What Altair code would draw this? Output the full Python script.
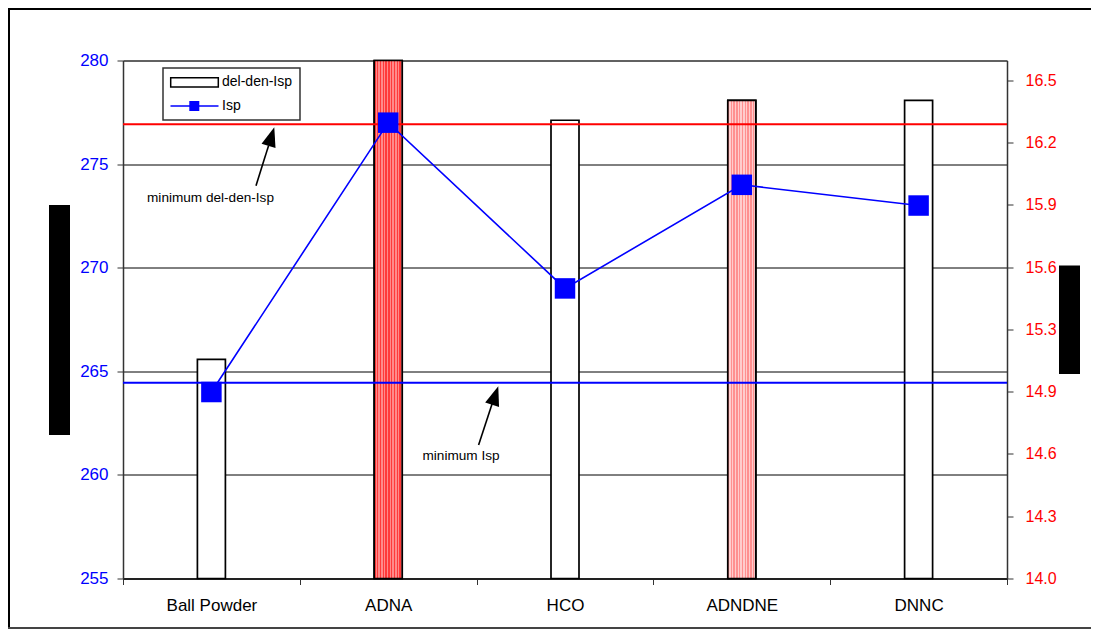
import altair as alt
import pandas as pd

# ---------------- data ----------------
categories = ["Ball Powder", "ADNA", "HCO", "ADNDNE", "DNNC"]
del_den_isp = [15.1, 16.6, 16.3, 16.4, 16.4]      # right axis (bars)
isp = [264.0, 277.0, 269.0, 274.0, 273.0]          # left axis (line)
min_del_den_isp = [16.28]
min_isp = [264.45]
left_ticks = [255, 260, 265, 270, 275, 280]
right_ticks = [14.0, 14.3125, 14.625, 14.9375, 15.25, 15.5625, 15.875, 16.1875, 16.5]
right_domain = [14.0, 16.6]
left_domain = [255, 280]

FONT = "Liberation Sans"
W, H = 884, 518

df = pd.DataFrame({"cat": categories, "ddi": del_den_isp, "isp": isp})
one = pd.DataFrame({"a": [0]})


def stripes(dark, light, n=10):
    stops = []
    for i in range(n):
        a, b, c = i / n, (i + 0.5) / n, (i + 1) / n
        stops += [
            alt.GradientStop(offset=a, color=dark),
            alt.GradientStop(offset=b, color=dark),
            alt.GradientStop(offset=b, color=light),
            alt.GradientStop(offset=c, color=light),
        ]
    return alt.LinearGradient(gradient="linear", stops=stops, x1=0, x2=1, y1=0, y2=0)


x_enc = alt.X(
    "cat:N",
    sort=categories,
    scale=alt.Scale(paddingInner=0, paddingOuter=0),
    axis=alt.Axis(
        title=None, labelAngle=0, tickBand="extent", labelFontSize=17, labelFont=FONT,
        labelColor="black", labelPadding=13, tickSize=6, tickColor="#333",
        domainColor="#222", domainWidth=2, grid=False,
    ),
)

r_scale = alt.Scale(domain=right_domain, nice=False, zero=False)
l_scale = alt.Scale(domain=left_domain, nice=False, zero=False)

r_axis = alt.Axis(
    orient="right", values=right_ticks, format=".1f", title=None, labelColor="#ff0000",
    labelFontSize=16, labelFont=FONT, grid=False, tickSize=6, labelPadding=12,
    domainColor="#333", domainWidth=1.5, tickColor="#333",
)
l_axis = alt.Axis(
    orient="left", values=left_ticks, title=None, labelColor="#0000ff",
    labelFontSize=17, labelFont=FONT, grid=True, gridColor="#000", gridWidth=1,
    tickSize=6, labelPadding=9, domainColor="#333", domainWidth=1.5, tickColor="#333",
)

yR = alt.Y("ddi:Q", scale=r_scale, axis=r_axis)
yL = alt.Y("isp:Q", scale=l_scale, axis=l_axis)
base_r = alt.datum(right_domain[0])

bars = alt.Chart(df).mark_bar(size=28, fill="white", stroke="black", strokeWidth=1.7).encode(
    x=x_enc, y=yR, y2=base_r
)
adna = alt.Chart(df).transform_filter(alt.datum.cat == "ADNA").mark_bar(
    size=28, fill=stripes("#ff3a3a", "#ff8a8a"), stroke="black", strokeWidth=1.7
).encode(x=x_enc, y=yR, y2=base_r)
adndne = alt.Chart(df).transform_filter(alt.datum.cat == "ADNDNE").mark_bar(
    size=28, fill=stripes("#ff9090", "#ffcdcd"), stroke="black", strokeWidth=1.7
).encode(x=x_enc, y=yR, y2=base_r)
red_rule = alt.Chart(pd.DataFrame({"ddi": min_del_den_isp})).mark_rule(
    color="#ff0000", strokeWidth=2
).encode(y=yR)

group_right = alt.layer(bars, adna, adndne, red_rule)

line = alt.Chart(df).mark_line(color="#0000ff", strokeWidth=1.6).encode(x=x_enc, y=yL)
pts = alt.Chart(df).mark_point(
    shape="square", filled=True, size=420, color="#0000ff", opacity=1
).encode(x=x_enc, y=yL)
blue_rule = alt.Chart(pd.DataFrame({"isp": min_isp})).mark_rule(
    color="#0000ff", strokeWidth=2
).encode(y=yL)

group_left = alt.layer(line, pts, blue_rule)

# ---------------- annotations / decoration ----------------
ARROW = "M0,-1L0.75,1L-0.75,1Z"


def arrow(tx, ty, hx, hy, cx, cy, ang):
    shaft = alt.Chart(one).mark_rule(color="black", strokeWidth=1.6).encode(
        x=alt.value(tx), y=alt.value(ty), x2=alt.value(hx), y2=alt.value(hy)
    )
    head = alt.Chart(one).mark_point(
        shape=ARROW, filled=True, color="black", size=380, angle=ang, opacity=1
    ).encode(x=alt.value(cx), y=alt.value(cy))
    return [shaft, head]


def label(txt, x, y, size=13, align="center"):
    return alt.Chart(one).mark_text(
        text=txt, fontSize=size, font=FONT, align=align, baseline="middle", color="black"
    ).encode(x=alt.value(x), y=alt.value(y))


def box(x, x2, y, y2, fill, stroke=None, sw=1.5):
    kw = dict(fill=fill)
    if stroke:
        kw.update(stroke=stroke, strokeWidth=sw)
    return alt.Chart(one).mark_rect(**kw).encode(
        x=alt.value(x), x2=alt.value(x2), y=alt.value(y), y2=alt.value(y2)
    )


annot = []
annot += arrow(133, 125.2, 145.6, 85.0, 148.4, 76.0, 17.2)
annot.append(label("minimum del-den-Isp", 87.5, 137.2, 13.6))
annot += arrow(355.6, 384.5, 369.2, 343.0, 372.2, 335.0, 18.4)
annot.append(label("minimum Isp", 338, 395.2, 13.6))

# legend
legend = [
    box(40, 177, 7.5, 59.5, "white", "#333", 1.5),
    box(47.7, 95.3, 17.2, 26.5, "white", "black", 1.5),
    label("del-den-Isp", 99, 21.5, 14, "left"),
    alt.Chart(one).mark_rule(color="#0000ff", strokeWidth=1.6).encode(
        x=alt.value(47.5), x2=alt.value(95.5), y=alt.value(45.5)
    ),
    alt.Chart(one).mark_point(shape="square", filled=True, size=100, color="#0000ff", opacity=1).encode(
        x=alt.value(71.3), y=alt.value(45.5)
    ),
    label("Isp", 99, 45.5, 14, "left"),
]

# redacted axis titles
redact = [
    box(-74, -53, 144.5, 374.5, "black"),
    box(936, 957, 205, 313.5, "black"),
]

# outer frame drawn as thin filled strips (left, top, bottom), running to the picture edge
frame = [
    box(-115, -113, -52.5, 568.5, "black"),
    box(-115, 1000, -52.5, -50.5, "black"),
    box(-115, 1000, 566.5, 568.5, "#444"),
]

chart = alt.layer(
    group_right, group_left, *annot, *legend, *redact, *frame
).resolve_scale(y="independent").properties(
    width=W, height=H,
    autosize=alt.AutoSizeParams(type="none"),
    padding={"left": 115, "top": 52.5, "right": 84, "bottom": 50},
    background="white",
).configure_view(stroke="#888", strokeWidth=1)

chart.save("out.html", embed_options={"renderer": "svg", "actions": False})
